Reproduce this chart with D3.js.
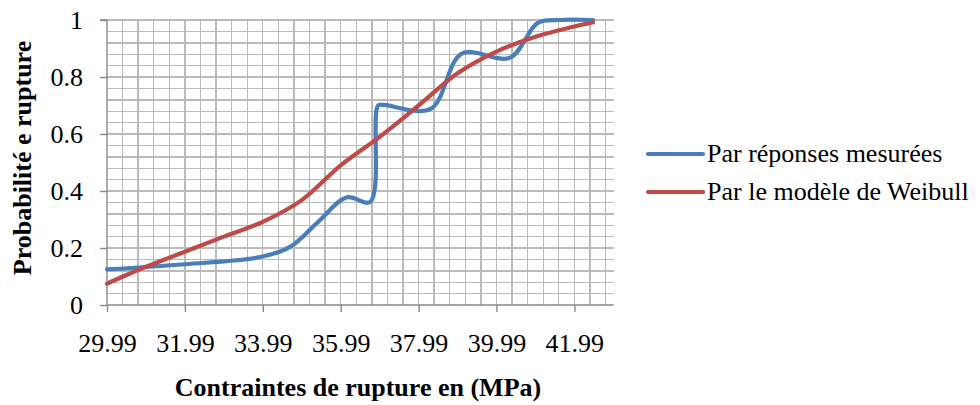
<!DOCTYPE html>
<html>
<head>
<meta charset="utf-8">
<script src="https://cdn.jsdelivr.net/npm/d3@7"></script>
<style>
  html, body { margin: 0; padding: 0; background: #fff; }
  svg { display: block; }
  text { font-family: "Liberation Serif", "Times New Roman", serif; fill: #000; }
</style>
</head>
<body>
<svg id="chart" width="980" height="405"></svg>
<script>
// Rupture stress (MPa) and cumulative failure probability
const measuredStress = [29.99, 31.99, 33.99, 34.7, 35.4, 36.15, 36.75, 36.95, 37.1, 38.3, 39.1, 40.34, 41.05, 41.6, 42.47];
const measuredProb   = [0.125, 0.143, 0.17, 0.205, 0.29, 0.378, 0.362, 0.70, 0.702, 0.688, 0.882, 0.868, 0.99, 1.0, 1.0];

const weibullStress = [29.99, 30.99, 31.99, 32.99, 33.99, 34.99, 35.99, 36.99, 37.99, 38.99, 39.99, 40.99, 41.99, 42.47];
const weibullProb   = [0.075, 0.134, 0.187, 0.24, 0.292, 0.368, 0.49, 0.59, 0.70, 0.813, 0.889, 0.941, 0.977, 0.992];

const xTicks = [29.99, 31.99, 33.99, 35.99, 37.99, 39.99, 41.99];
const yTicks = [0, 0.2, 0.4, 0.6, 0.8, 1];

const seriesNames = ["Par réponses mesurées", "Par le modèle de Weibull"];
const seriesColors = ["#4a7ebb", "#be4b48"];

const svg = d3.select("#chart");
const plotLeft = 107, plotRight = 613.7, plotTop = 20, plotBottom = 305;
const fontSize = 26;

const x = d3.scaleLinear().domain([29.99, 43]).range([plotLeft, plotRight]);
const y = d3.scaleLinear().domain([0, 1]).range([plotBottom, plotTop]);

// Grid: minor step 0.4 MPa horizontally, 0.04 vertically
const gridX = d3.range(1, 33).map(k => 29.99 + k * 0.4);
const gridY = d3.range(1, 26).map(k => k * 0.04);

const grid = svg.append("g").attr("stroke", "#bababa").attr("stroke-width", 1.4).attr("shape-rendering", "crispEdges");
grid.selectAll("line.v").data(gridX).join("line").attr("class", "v")
  .attr("x1", d => x(d)).attr("x2", d => x(d)).attr("y1", plotTop).attr("y2", plotBottom);
grid.selectAll("line.h").data(gridY).join("line").attr("class", "h")
  .attr("x1", plotLeft).attr("x2", plotRight).attr("y1", d => y(d)).attr("y2", d => y(d));

// Axes
const xAxis = d3.axisBottom(x).tickValues(xTicks).tickFormat(d3.format(".2f")).tickSize(7).tickPadding(22);
const yAxis = d3.axisLeft(y).tickValues(yTicks).tickFormat(d => d3.format("")(d)).tickSize(7).tickPadding(17);

const gx = svg.append("g").attr("transform", `translate(0,${plotBottom})`).call(xAxis);
const gy = svg.append("g").attr("transform", `translate(${plotLeft},0)`).call(yAxis);
[gx, gy].forEach(g => {
  g.select(".domain").attr("stroke", "#8a8a8a").attr("stroke-width", 1.4);
  g.selectAll(".tick line").attr("stroke", "#8a8a8a").attr("stroke-width", 1.4);
  g.selectAll(".tick text").attr("font-family", "Liberation Serif").attr("font-size", fontSize).attr("fill", "#000");
});
gy.select(".domain").attr("d", `M-7,${plotTop}H0V${plotBottom}`);
gx.select(".domain").attr("d", `M${plotLeft},0H${plotRight}`);

// Series
const line = d3.line().x(d => x(d[0])).y(d => y(d[1])).curve(d3.curveCatmullRom.alpha(0.5));
const series = [
  d3.zip(measuredStress, measuredProb),
  d3.zip(weibullStress, weibullProb)
];
svg.append("g").selectAll("path").data(series).join("path")
  .attr("d", line)
  .attr("fill", "none")
  .attr("stroke", (d, i) => seriesColors[i])
  .attr("stroke-width", 4.2)
  .attr("stroke-linecap", "round")
  .attr("stroke-linejoin", "round");

// Axis titles
svg.append("text")
  .attr("x", 358).attr("y", 396)
  .attr("text-anchor", "middle")
  .attr("font-weight", "bold").attr("font-size", fontSize)
  .text("Contraintes de rupture en (MPa)");

svg.append("text")
  .attr("transform", `translate(31,158) rotate(-90)`)
  .attr("text-anchor", "middle")
  .attr("font-weight", "bold").attr("font-size", fontSize)
  .text("Probabilité e rupture");

// Legend
const legend = svg.append("g").selectAll("g").data(seriesNames).join("g")
  .attr("transform", (d, i) => `translate(648,${154 + i * 38})`);
legend.append("line")
  .attr("x1", 0).attr("x2", 55).attr("y1", 0).attr("y2", 0)
  .attr("stroke", (d, i) => seriesColors[i])
  .attr("stroke-width", 4.2).attr("stroke-linecap", "round");
legend.append("text")
  .attr("x", 59).attr("y", 8)
  .attr("font-size", fontSize)
  .text(d => d);
</script>
</body>
</html>
